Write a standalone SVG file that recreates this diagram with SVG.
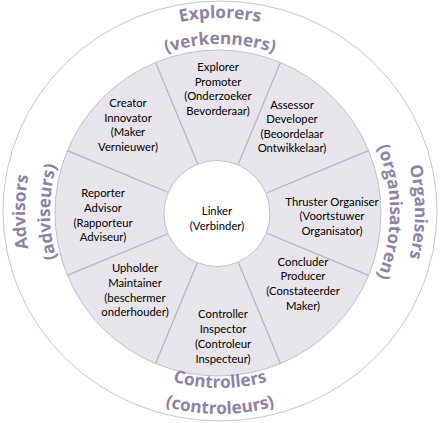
<svg xmlns="http://www.w3.org/2000/svg" xmlns:xlink="http://www.w3.org/1999/xlink" width="441" height="423" viewBox="0 0 441 423">
<style>
.lbl{font-family:Lato,"Open Sans","Liberation Sans",sans-serif;font-size:11.3px;fill:#000;text-anchor:middle}
.ring{font-family:"Open Sans","Liberation Sans",sans-serif;font-weight:700;font-size:17.2px;fill:#8F82A5}
.div{stroke:#B8B0C5;stroke-width:1.2;fill:none}
</style>
<defs>
<path id="topOuter" d="M26,212 A194,194 0 0 1 414,212"/>
<path id="topInner" d="M52,212 A168,168 0 0 1 388,212"/>
<path id="botInner" d="M44,212 A176,176 0 0 0 396,212"/>
<path id="botOuter" d="M18,212 A202,202 0 0 0 422,212"/>
<path id="leftOuter" d="M220,407 A195,195 0 0 1 220,17"/>
<path id="leftInner" d="M220,382 A170,170 0 0 1 220,42"/>
<path id="rightOuter" d="M220,17 A195,195 0 0 1 220,407"/>
<path id="rightInner" d="M220,42 A170,170 0 0 1 220,382"/>
</defs>
<rect width="441" height="423" fill="#fff"/>
<ellipse id="outer" cx="220" cy="211" rx="217" ry="210" fill="#fff" stroke="#C9C3D3" stroke-width="1"/>
<circle id="ring" cx="218" cy="213" r="163" fill="#E7E5EB" stroke="#C4BDCF" stroke-width="1"/>
<g id="connectors">
<line class="div" x1="197.7" y1="164.0" x2="155.6" y2="62.4"/>
<line class="div" x1="238.3" y1="164.0" x2="280.4" y2="62.4"/>
<line class="div" x1="267.0" y1="192.7" x2="368.6" y2="150.6"/>
<line class="div" x1="267.0" y1="233.3" x2="368.6" y2="275.4"/>
<line class="div" x1="238.3" y1="262.0" x2="280.4" y2="363.6"/>
<line class="div" x1="197.7" y1="262.0" x2="155.6" y2="363.6"/>
<line class="div" x1="169.0" y1="233.3" x2="67.4" y2="275.4"/>
<line class="div" x1="169.0" y1="192.7" x2="67.4" y2="150.6"/>
</g>
<g id="linker">
<circle cx="217" cy="213.5" r="53" fill="#fff" stroke="#C4BDCF" stroke-width="1"/>
<text class="lbl"><tspan x="217" y="215">Linker</tspan><tspan x="217" y="229.7">(Verbinder)</tspan></text>
</g>
<g id="explorer"><text class="lbl"><tspan x="218" y="71">Explorer</tspan><tspan x="218" y="85.5">Promoter</tspan><tspan x="218" y="100">(Onderzoeker</tspan><tspan x="218" y="114.5">Bevorderaar)</tspan></text></g>
<g id="creator"><text class="lbl"><tspan x="128" y="107">Creator</tspan><tspan x="128" y="121.7">Innovator</tspan><tspan x="128" y="136.4">(Maker</tspan><tspan x="128" y="151">Vernieuwer)</tspan></text></g>
<g id="assessor"><text class="lbl"><tspan x="292" y="108.5">Assessor</tspan><tspan x="292" y="123">Developer</tspan><tspan x="292" y="137.7">(Beoordelaar</tspan><tspan x="292" y="152.4">Ontwikkelaar)</tspan></text></g>
<g id="reporter"><text class="lbl"><tspan x="103" y="196.7">Reporter</tspan><tspan x="103" y="211.7">Advisor</tspan><tspan x="103" y="226.5">(Rapporteur</tspan><tspan x="103" y="241.2">Adviseur)</tspan></text></g>
<g id="thruster"><text class="lbl"><tspan x="332" y="205.5">Thruster Organiser</tspan><tspan x="332" y="220">(Voortstuwer</tspan><tspan x="332" y="234.7">Organisator)</tspan></text></g>
<g id="concluder"><text class="lbl"><tspan x="303" y="265.7">Concluder</tspan><tspan x="303" y="280.4">Producer</tspan><tspan x="303" y="295">(Constateerder</tspan><tspan x="303" y="309.7">Maker)</tspan></text></g>
<g id="upholder"><text class="lbl"><tspan x="135" y="272">Upholder</tspan><tspan x="135" y="287">Maintainer</tspan><tspan x="135" y="301.6">(beschermer</tspan><tspan x="135" y="316">onderhouder)</tspan></text></g>
<g id="controller"><text class="lbl"><tspan x="223" y="318.3">Controller</tspan><tspan x="223" y="333.2">Inspector</tspan><tspan x="223" y="348">(Controleur</tspan><tspan x="223" y="362.6">Inspecteur)</tspan></text></g>
<g id="explorers"><text class="ring"><textPath xlink:href="#topOuter" href="#topOuter" startOffset="50%" text-anchor="middle">Explorers</textPath></text><text class="ring"><textPath xlink:href="#topInner" href="#topInner" startOffset="50%" text-anchor="middle">(verkenners)</textPath></text></g>
<g id="controllers"><text class="ring"><textPath xlink:href="#botInner" href="#botInner" startOffset="50%" text-anchor="middle">Controllers</textPath></text><text class="ring"><textPath xlink:href="#botOuter" href="#botOuter" startOffset="50%" text-anchor="middle">(controleurs)</textPath></text></g>
<g id="advisors"><text class="ring"><textPath xlink:href="#leftOuter" href="#leftOuter" startOffset="50%" text-anchor="middle">Advisors</textPath></text><text class="ring"><textPath xlink:href="#leftInner" href="#leftInner" startOffset="50%" text-anchor="middle">(adviseurs)</textPath></text></g>
<g id="organisers"><text class="ring"><textPath xlink:href="#rightOuter" href="#rightOuter" startOffset="50%" text-anchor="middle">Organisers</textPath></text><text class="ring"><textPath xlink:href="#rightInner" href="#rightInner" startOffset="50%" text-anchor="middle">(organisatoren)</textPath></text></g>
</svg>
